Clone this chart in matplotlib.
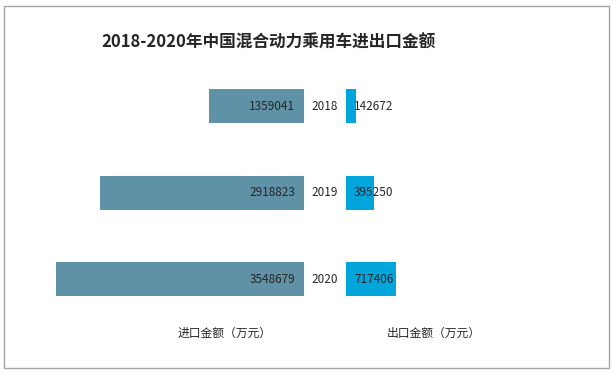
import matplotlib
matplotlib.use('Agg')
import matplotlib.pyplot as plt
from matplotlib.patches import Rectangle

plt.rcParams['font.family'] = ['Noto Sans CJK SC', 'DejaVu Sans']

# 数据
years = ['2018', '2019', '2020']
imports = [1359041, 2918823, 3548679]
exports = [142672, 395250, 717406]

W, H = 613, 375
fig = plt.figure(figsize=(W / 100, H / 100), dpi=100)

# 外框
fig.patches.append(Rectangle((4 / W, 1 - 368 / H), 605 / W, 362 / H,
                             transform=fig.transFigure, fill=False,
                             edgecolor='#A6A6A6', linewidth=1))

xmax = 264 * 14300
pos = [0.1176, 0.738]
ax_l = fig.add_axes([40 / W, pos[0], 264 / W, pos[1]])
ax_r = fig.add_axes([346 / W, pos[0], 264 / W, pos[1]])

y = list(range(len(years)))
ax_l.barh(y, imports, height=0.393, color='#5F91A7')
ax_r.barh(y, exports, height=0.393, color='#00A5DC')

ax_l.set_xlim(xmax, 0)
ax_r.set_xlim(0, xmax)
for ax in (ax_l, ax_r):
    ax.set_ylim(2.6, -0.6)
    ax.axis('off')

txt = '#262626'
for i, (yr, a, b) in enumerate(zip(years, imports, exports)):
    ax_l.annotate(str(a), xy=(0, i), xytext=(-6.5, 0), textcoords='offset points',
                  ha='right', va='center', fontsize=8.5, color=txt)
    ax_l.annotate(yr, xy=(0, i), xytext=(15.1, 0), textcoords='offset points',
                  ha='center', va='center', fontsize=8.5, color=txt)
    ax_r.annotate(str(b), xy=(0, i), xytext=(5.8, 0), textcoords='offset points',
                  ha='left', va='center', fontsize=8.5, color=txt)

fig.text(269 / W, 1 - 43 / H, '2018-2020年中国混合动力乘用车进出口金额',
         fontsize=12, fontweight='bold', color='#262626', ha='center', va='center')
fig.text(225 / W, 1 - 333 / H, '进口金额（万元）', fontsize=8.5, color=txt,
         ha='center', va='center')
fig.text(434 / W, 1 - 333 / H, '出口金额（万元）', fontsize=8.5, color=txt,
         ha='center', va='center')

fig.savefig('out.png', dpi=100)
